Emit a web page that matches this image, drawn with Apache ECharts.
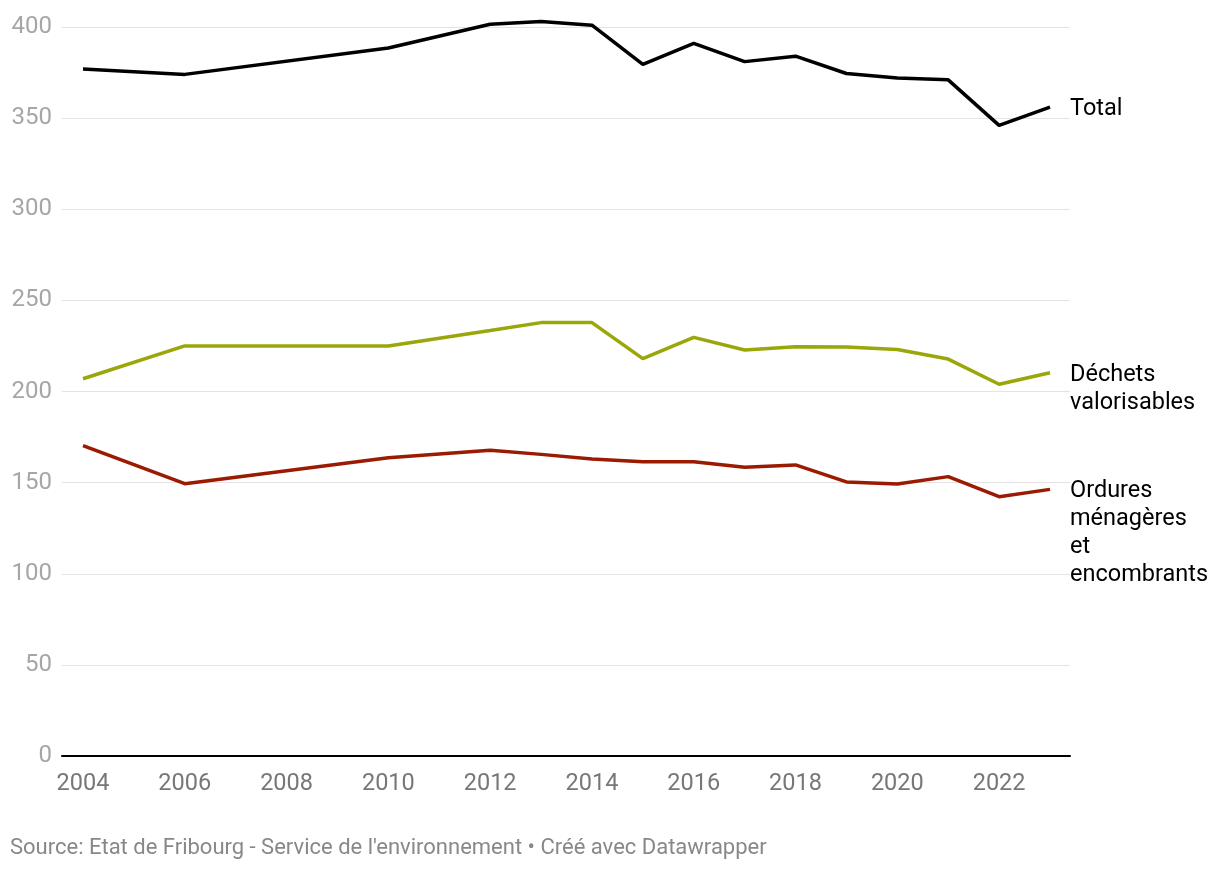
<!DOCTYPE html>
<html>
<head>
<meta charset="utf-8">
<script src="https://cdn.jsdelivr.net/npm/echarts@6/dist/echarts.min.js"></script>
<style>
html,body{margin:0;padding:0;background:#fff;}
#chart{width:1220px;height:872px;}
</style>
</head>
<body>
<div id="chart"></div>
<script>
const years = [2004, 2006, 2010, 2012, 2013, 2014, 2015, 2016, 2017, 2018, 2019, 2020, 2021, 2022, 2023];
const total = [377, 374, 388.5, 401.5, 403, 401, 379.5, 391, 381, 384, 374.5, 372, 371, 346, 356];
const valorisables = [207, 225, 225, 233.5, 237.8, 237.8, 218, 229.7, 222.8, 224.6, 224.4, 223, 217.8, 204, 210.3];
const ordures = [170.3, 149.4, 163.7, 167.7, 165.5, 163, 161.5, 161.5, 158.4, 159.7, 150.4, 149.2, 153.3, 142.3, 146.3];
const seriesNames = ['Total', 'Déchets\nvalorisables', 'Ordures\nménagères\net\nencombrants'];
const seriesColors = ['#000000', '#9aa609', '#9a1b02'];
const sourceText = "Source: Etat de Fribourg - Service de l'environnement • Créé avec Datawrapper";

const pairs = arr => years.map((y, i) => [y, arr[i]]);
const allData = [total, valorisables, ordures];

const chart = echarts.init(document.getElementById('chart'));
chart.setOption({
  animation: false,
  textStyle: { fontFamily: 'Roboto' },
  grid: [
    { left: 62, right: 150, top: 27, bottom: 116 },
    { left: 83, right: 170, top: 27, bottom: 116 }
  ],
  xAxis: [
    {
      gridIndex: 0, type: 'value', min: 0, max: 1,
      axisLine: { show: true, onZero: false, lineStyle: { color: '#000', width: 2 } },
      axisTick: { show: false }, axisLabel: { show: false }, splitLine: { show: false }
    },
    {
      gridIndex: 1, type: 'value', min: 2004, max: 2023, interval: 2,
      axisLine: { show: false },
      axisTick: { show: false },
      splitLine: { show: false },
      axisLabel: {
        showMaxLabel: false, color: '#777', fontSize: 23.5, margin: 16,
        fontFamily: 'Roboto', formatter: v => String(v)
      }
    }
  ],
  yAxis: [
    {
      gridIndex: 0, type: 'value', min: 0, max: 400, interval: 50,
      axisLine: { show: false }, axisTick: { show: false },
      splitLine: { lineStyle: { color: '#e3e3e3', width: 1 } },
      axisLabel: { color: '#a6a6a6', fontSize: 24, margin: 10, fontFamily: 'Roboto' }
    },
    {
      gridIndex: 1, type: 'value', min: 0, max: 400, interval: 50,
      axisLine: { show: false }, axisTick: { show: false },
      splitLine: { show: false }, axisLabel: { show: false }
    }
  ],
  graphic: [{
    type: 'text', left: 10, top: 837,
    style: { text: sourceText, fill: '#888', fontSize: 22, fontFamily: 'Roboto' }
  }],
  series: allData.map((arr, i) => ({
    type: 'line',
    name: seriesNames[i],
    xAxisIndex: 1,
    yAxisIndex: 1,
    data: pairs(arr),
    showSymbol: false,
    symbol: 'none',
    clip: false,
    lineStyle: { color: seriesColors[i], width: 3.5 },
    itemStyle: { color: seriesColors[i] },
    z: 3 - i,
    endLabel: {
      show: true,
      formatter: () => seriesNames[i],
      color: '#000',
      fontSize: 23.5,
      fontFamily: 'Roboto',
      lineHeight: 28,
      distance: 20,
      verticalAlign: 'top',
      offset: [0, -12]
    }
  }))
});
</script>
</body>
</html>
